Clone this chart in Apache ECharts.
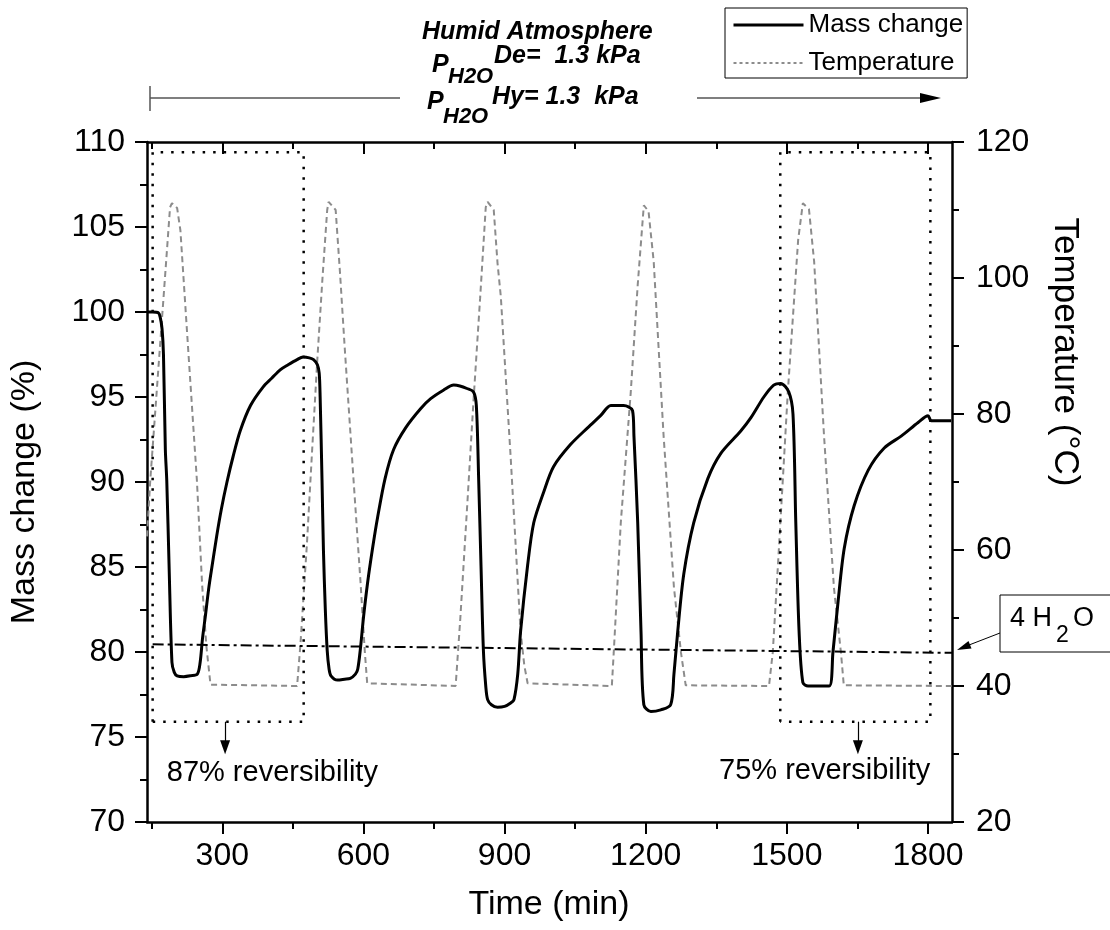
<!DOCTYPE html>
<html><head><meta charset="utf-8">
<script src="https://cdn.jsdelivr.net/npm/echarts@6/dist/echarts.min.js"></script>
<style>html,body{margin:0;padding:0;background:#fff}#c{width:1110px;height:930px}</style>
</head><body><div id="c"></div>
<script>
// ---------- data ----------
const massTime = [140,152,164,168,172,175,179,182,187,193,198,204,218,232,247,253,258,264,271,278,288,298,310,323,338,360,387,405,423,440,459,472,485,494,502,506,508,512,515,519,523,527,531,545,560,572,583,588,594,600,609,620,630,646,664,690,721,743,770,792,805,820,834,840,845,850,855,860,864,872,885,900,913,920,928,934,949,962,983,1004,1040,1077,1104,1126,1153,1172,1175,1183,1190,1196,1211,1232,1253,1260,1268,1281,1302,1332,1360,1402,1424,1451,1472,1487,1504,1513,1519,1526,1534,1545,1566,1590,1598,1609,1622,1643,1673,1707,1743,1779,1800,1807,1849];
const massValue = [100.0,100.0,99.95,99.7,99.0,97.5,91.9,90.1,85.0,79.4,78.8,78.6,78.55,78.6,78.7,79.4,80.8,82.1,83.7,85.0,86.8,88.4,90.0,91.5,93.0,94.5,95.6,96.1,96.6,96.9,97.2,97.35,97.3,97.2,96.9,96.4,95.0,90.1,86.0,82.5,80.1,79.0,78.6,78.35,78.4,78.45,78.7,79.0,80.3,82.0,84.1,86.2,87.9,90.2,91.9,93.2,94.3,94.9,95.4,95.7,95.65,95.5,95.3,94.5,90.1,85.0,80.1,78.0,77.2,76.9,76.75,76.8,77.0,77.2,78.7,81.2,85.1,87.6,89.4,90.9,92.2,93.2,93.9,94.5,94.5,94.2,92.7,87.6,81.2,76.9,76.5,76.6,76.9,78.7,81.2,84.6,87.6,90.2,91.7,93.0,93.8,95.0,95.7,95.8,95.3,94.0,87.6,81.2,78.2,78.0,78.0,78.0,80.0,83.0,86.1,88.6,90.7,92.0,92.7,93.5,93.9,93.6,93.6];
const tempTime = [140,147,160,175,189,193,204,211,228,246,257,266,270,275,459,466,480,491,502,513,523,526,541,550,560,579,594,603,608,796,806,821,834,848,860,864,877,885,892,913,934,942,949,1128,1132,1147,1168,1183,1196,1206,1217,1238,1260,1275,1285,1462,1470,1481,1502,1524,1534,1547,1558,1579,1600,1615,1621,1850];
const tempValue = [62,70.3,82.7,97,110.4,111,110.3,107,89,70.3,55.1,46,43.4,40.2,40,46,61,74.7,88,100,110,111.2,110,101,90,70.3,55.1,45,40.4,40,50,67,82,97,110.4,111.2,110,102.2,97.3,73.6,48,43,40.4,40,44.9,64,83,99,110.7,109.8,102.4,76.8,54.5,44.9,40.1,40,44.9,57.7,83.2,105.6,111,110.1,102.4,76.8,54.5,44.9,40.1,40];
const xMajorTicks = [300,600,900,1200,1500,1800];
const xMinorTicks = [150,450,750,1050,1350,1650];
const waterLineTime = [152,1851];
const waterLineMass = [80.45,79.95];
const box1Time = [152,473];
const box2Time = [1486,1805];
const boxMass = [75.9,109.4];
const arrowTime = [306,1651];
const arrowMass = [75.9,74.4];
const revTexts = ['87% reversibility','75% reversibility'];
const revTime = [182,1356];
const revMass = [72.9,73.0];
const seriesNames = ['Mass change','Temperature'];

// ---------- build ----------
const zip = (a,b)=>a.map((v,i)=>[v,b[i]]);
const boxPath = (t)=>[[t[0],boxMass[0]],[t[0],boxMass[1]],[t[1],boxMass[1]],[t[1],boxMass[0]],[t[0],boxMass[0]]];
const FF = '"Liberation Sans", Arial, sans-serif';
const XMIN = 140, XMAX = 1851;

function xAxisDef(pos, ticks, len, showLine, inside){
  return {type:'value', position:pos, min:XMIN, max:XMAX,
    axisLine:{show:showLine, onZero:false, lineStyle:{color:'#000', width:2.5}},
    axisTick:{show:true, inside:inside, length:len, customValues:ticks, lineStyle:{color:'#000', width:2}},
    axisLabel:{show:(pos==='bottom' && len>10), customValues:ticks, fontSize:32, color:'#000', fontFamily:FF, margin:18,
      formatter:(v)=>String(v)},
    splitLine:{show:false}};
}
const chart = echarts.init(document.getElementById('c'), null, {renderer:'canvas'});
const option = {
  animation:false,
  backgroundColor:'#fff',
  grid:{left:147, right:158, top:142, bottom:108, containLabel:false},
  xAxis:[
    xAxisDef('bottom', xMajorTicks, 12, true, false),
    xAxisDef('bottom', xMinorTicks, 7, false, false),
    xAxisDef('top', xMajorTicks, 12, true, true),
    xAxisDef('top', xMinorTicks, 7, false, true)
  ],
  yAxis:[
    {type:'value', position:'left', min:70, max:110, interval:5,
     axisLine:{show:true, lineStyle:{color:'#000', width:2.5}},
     axisTick:{show:true, length:12, lineStyle:{color:'#000', width:2}},
     minorTick:{show:true, splitNumber:2, length:7, lineStyle:{color:'#000', width:2}},
     axisLabel:{fontSize:32, color:'#000', fontFamily:FF, margin:22},
     splitLine:{show:false}},
    {type:'value', position:'right', min:20, max:120, interval:20,
     axisLine:{show:true, lineStyle:{color:'#000', width:2.5}},
     axisTick:{show:true, length:12, lineStyle:{color:'#000', width:2}},
     minorTick:{show:true, splitNumber:2, length:7, lineStyle:{color:'#000', width:2}},
     axisLabel:{fontSize:32, color:'#000', fontFamily:FF, margin:24},
     splitLine:{show:false}}
  ],
  legend:{data:[{name:seriesNames[0], lineStyle:{width:3, color:'#000'}}, {name:seriesNames[1], lineStyle:{width:2, color:'#8c8c8c', type:[3,3]}}],
    orient:'vertical', left:725, top:8, itemWidth:70, itemHeight:14, itemGap:8,
    padding:[2,4,0,7], borderColor:'#000', borderWidth:1, backgroundColor:'#fff',
    itemStyle:{color:'rgba(0,0,0,0)', borderColor:'rgba(0,0,0,0)', borderWidth:0, opacity:0},
    textStyle:{fontSize:26, color:'#000', fontFamily:FF, lineHeight:30}},
  series:[
    {name:'Temperature', type:'line', xAxisIndex:0, yAxisIndex:1, data:zip(tempTime,tempValue),
     symbol:'none', itemStyle:{color:'#8c8c8c'}, lineStyle:{color:'#8c8c8c', width:2, type:[6,4]}, z:3},
    {name:'Mass change', type:'line', xAxisIndex:0, yAxisIndex:0, data:zip(massTime,massValue),
     symbol:'none', smooth:0.3, itemStyle:{color:'#000'}, lineStyle:{color:'#000', width:3}, z:5},
    {type:'line', xAxisIndex:0, yAxisIndex:0, data:boxPath(box1Time), symbol:'none', silent:true,
     lineStyle:{color:'#000', width:2.5, type:[2.5,8]}, z:4},
    {type:'line', xAxisIndex:0, yAxisIndex:0, data:boxPath(box2Time), symbol:'none', silent:true,
     lineStyle:{color:'#000', width:2.5, type:[2.5,8]}, z:4},
    {type:'line', xAxisIndex:0, yAxisIndex:0, data:zip(waterLineTime,waterLineMass), symbol:'none', silent:true,
     lineStyle:{color:'#000', width:2, type:[11,4,3,4]}, z:4},
    {type:'line', xAxisIndex:0, yAxisIndex:0, data:[], symbol:'none', silent:true,
     markLine:{silent:true, symbol:['none','triangle'], symbolSize:[10,14], label:{show:false},
       lineStyle:{color:'#000', width:1.2, type:'solid'},
       data:arrowTime.map(t=>[{coord:[t,arrowMass[0]]},{coord:[t,arrowMass[1]]}])}}
  ]
};
chart.setOption(option);

const TXT = (text,x,y,size,extra)=>({type:'text', x:x, y:y, silent:true, ...(extra||{}),
  style:{text:text, x:0, y:0, fontSize:size, fontFamily:FF, fill:'#000', verticalAlign:'middle', align:'left', ...((extra&&extra.st)||{})}});
const BI = {fontWeight:'bold', fontStyle:'italic'};
const graphics = [
  TXT('Humid Atmosphere',422,32,25,{st:BI}),
  TXT('P',432,65,25,{st:BI}), TXT('H2O',448,77,22,{st:BI}), TXT('De=  1.3 kPa',494,56,25,{st:BI}),
  TXT('P',427,102,25,{st:BI}), TXT('H2O',443,117,22,{st:BI}), TXT('Hy= 1.3  kPa',492,97,25,{st:BI}),
  {type:'line', shape:{x1:150,y1:98,x2:400,y2:98}, style:{stroke:'#555', lineWidth:1.5}},
  {type:'line', shape:{x1:150,y1:86,x2:150,y2:111}, style:{stroke:'#555', lineWidth:1.5}},
  {type:'line', shape:{x1:697,y1:98,x2:925,y2:98}, style:{stroke:'#555', lineWidth:1.5}},
  {type:'polygon', shape:{points:[[941,98],[920,93],[920,103]]}, style:{fill:'#000'}},
  TXT('Mass change (%)',25,492,34,{rotation:Math.PI/2, st:{align:'center'}}),
  TXT('Temperature (°C)',1065,352,35,{rotation:-Math.PI/2, st:{align:'center'}}),
  TXT('Time (min)',549,905,34,{st:{align:'center'}}),
  {type:'rect', shape:{x:1000,y:595,width:130,height:57}, style:{fill:'#fff', stroke:'#000', lineWidth:1}},
  TXT('4 H',1010,619,27), TXT('2',1056,636,23), TXT('O',1073,619,27),
  {type:'line', shape:{x1:1000,y1:633,x2:969,y2:645}, style:{stroke:'#000', lineWidth:1}},
  {type:'polygon', shape:{points:[[957,650],[971.5,648.6],[968.5,641.1]]}, style:{fill:'#000'}}
];
revTexts.forEach((t,i)=>{
  const p = chart.convertToPixel({xAxisIndex:0, yAxisIndex:0}, [revTime[i], revMass[i]]);
  graphics.push(TXT(t, p[0], p[1], 29));
});
chart.setOption({graphic:graphics});
</script></body></html>
